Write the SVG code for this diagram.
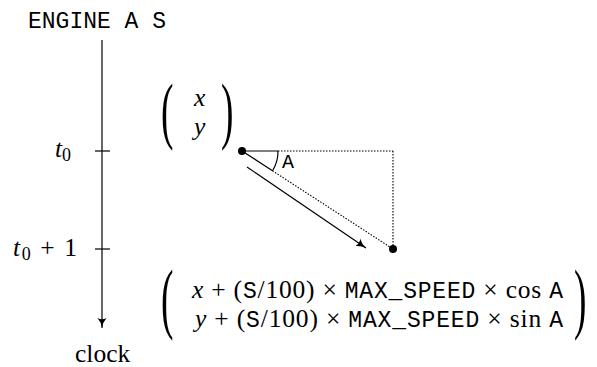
<svg xmlns="http://www.w3.org/2000/svg" width="597" height="367" viewBox="0 0 597 367">
<style>
.mono{font-family:"Liberation Mono","DejaVu Sans Mono",monospace;}
.ser{font-family:"Liberation Serif","DejaVu Serif",serif;}
.it{font-style:italic;}
.ln{stroke:#000;stroke-width:1.2;fill:none;}
.dot{stroke:#000;stroke-width:1.1;stroke-dasharray:1.5 1.5;fill:none;}
.par{font-family:"Liberation Serif","DejaVu Serif",serif;font-size:22px;}
</style>
<defs>
<marker id="ar" markerWidth="12" markerHeight="10" refX="10" refY="5" orient="auto" markerUnits="userSpaceOnUse">
<path d="M0,0.5 Q4,4 10,5 Q4,6 0,9.5 Q2.5,5 0,0.5 Z" fill="#000"/>
</marker>
</defs>
<g id="title"><text class="mono" x="28" y="28" font-size="23">ENGINE A S</text></g>
<g id="connectors">
<line class="ln" x1="102" y1="40" x2="102" y2="328" marker-end="url(#ar)"/>
<line class="ln" x1="95" y1="151" x2="110" y2="151"/>
<line class="ln" x1="95" y1="249" x2="110" y2="249"/>
<line class="ln" x1="242" y1="151" x2="278" y2="151"/>
<line class="dot" x1="278" y1="151" x2="393" y2="151"/>
<line class="dot" x1="393" y1="151" x2="393" y2="249"/>
<line class="ln" x1="242" y1="151" x2="272.5" y2="170.8"/>
<line class="dot" x1="272.5" y1="170.8" x2="393" y2="249"/>
<path class="ln" d="M278,151 A36,36 0 0 1 272.5,170.8"/>
<line class="ln" x1="247" y1="167" x2="366" y2="248" marker-end="url(#ar)"/>
<circle cx="242" cy="151" r="4" fill="#000"/>
<circle cx="393" cy="249" r="4" fill="#000"/>
</g>
<g id="labels">
<text class="ser it" x="55" y="157" font-size="25.5">t<tspan font-style="normal" font-size="18" dy="4">0</tspan></text>
<text class="ser" x="13" y="256" font-size="25.5" textLength="64" lengthAdjust="spacing"><tspan font-style="italic">t</tspan><tspan font-size="18" dy="4">0</tspan><tspan dy="-4"> + 1</tspan></text>
<text class="ser" x="75" y="362" font-size="25.5">clock</text>
<text class="mono" x="282" y="168" font-size="20">A</text>
</g>
<g id="vector-xy">
<text class="par" transform="translate(161,134.8) scale(1.7,3.4)">(</text>
<text class="par" transform="translate(221,134.8) scale(1.7,3.4)">)</text>
<text class="ser it" x="194" y="106" font-size="25.5">x</text>
<text class="ser it" x="194" y="135" font-size="25.5">y</text>
</g>
<g id="vector-result">
<text class="par" transform="translate(161,324) scale(1.7,3.6)">(</text>
<text class="par" transform="translate(574,324) scale(1.7,3.6)">)</text>
<text class="ser" x="192" y="298" font-size="25.5" textLength="371" lengthAdjust="spacing"><tspan font-style="italic">x</tspan> + (<tspan class="mono" font-size="23">S</tspan>/100) × <tspan class="mono" font-size="23">MAX_SPEED</tspan> × cos <tspan class="mono" font-size="23">A</tspan></text>
<text class="ser" x="195" y="327" font-size="25.5" textLength="368" lengthAdjust="spacing"><tspan font-style="italic">y</tspan> + (<tspan class="mono" font-size="23">S</tspan>/100) × <tspan class="mono" font-size="23">MAX_SPEED</tspan> × sin <tspan class="mono" font-size="23">A</tspan></text>
</g>
</svg>
